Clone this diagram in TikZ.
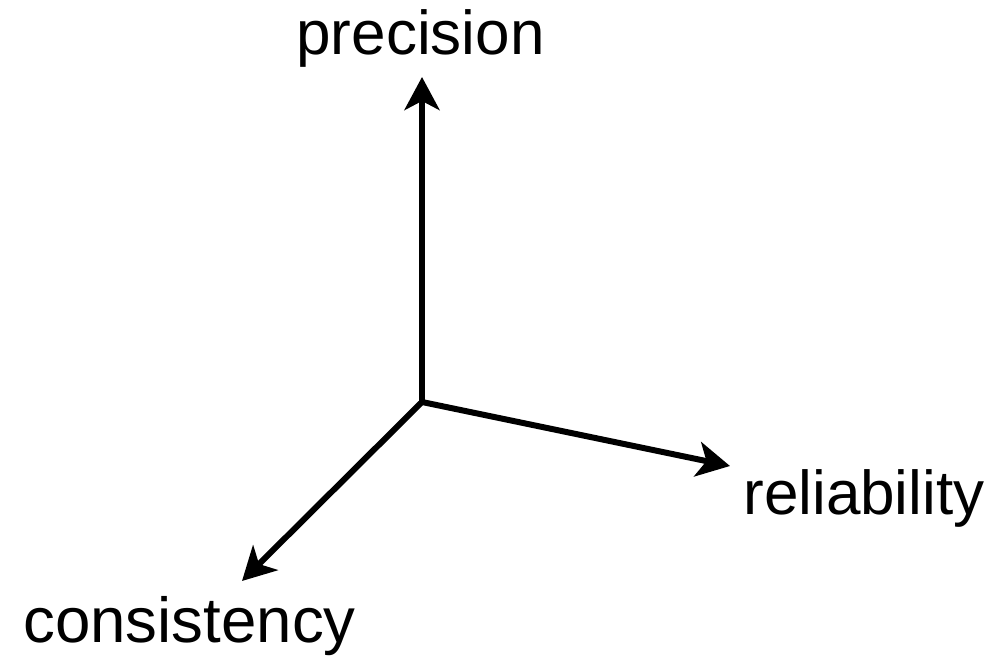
\documentclass[tikz,border=0pt]{standalone}
\usepackage{fontspec}
\setmainfont{Liberation Sans}
\usetikzlibrary{arrows.meta}
\begin{document}
\begin{tikzpicture}[x=0.5pt,y=-0.5pt,
  axis/.style={line width=3pt,-{Stealth[length=16.5pt,width=17.5pt,inset=4.5pt]}},
  lbl/.style={inner sep=0pt,font=\fontsize{31}{37}\selectfont}]
\useasboundingbox (0,0) rectangle (992,657);
\coordinate (O) at (422,402);
\coordinate (up) at (422,77);
\coordinate (right) at (730,466);
\coordinate (dl) at (242,581);
\draw[axis] (O) -- (up);
\draw[axis] (O) -- (right);
\draw[axis] (O) -- (dl);
\node[lbl,anchor=base] (prec) at (420.5,55) {precision};
\node[lbl,anchor=base west] (rel) at (743,515) {reliability};
\node[lbl,anchor=base west,font=\fontsize{31.8}{37}\selectfont] (cons) at (23,643) {consistency};
\end{tikzpicture}
\end{document}
